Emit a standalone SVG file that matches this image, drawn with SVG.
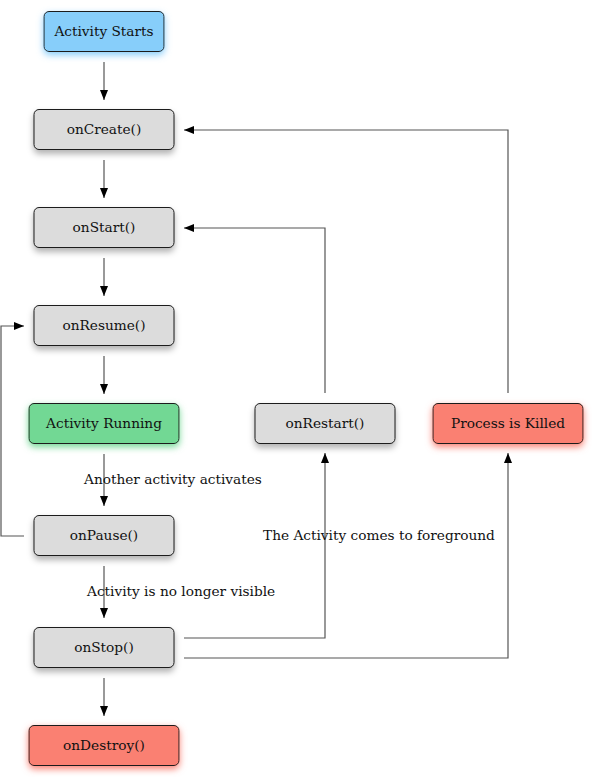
<svg xmlns="http://www.w3.org/2000/svg" width="594" height="777" viewBox="0 0 594 777">
<style>
.n rect{stroke:#1a1a1a;stroke-width:1}
.g rect{fill:#dcdcdc;filter:url(#sg)}
.b rect{fill:#87cefa;filter:url(#sb)}
.gr rect{fill:#72d894;filter:url(#sgr)}
.r rect{fill:#fa8072;filter:url(#sr)}
text{font-family:"DejaVu Serif",serif;font-size:13.7px;fill:#111}
.n text{text-anchor:middle}
#edges path{fill:none;stroke:#555;stroke-width:1.2}
</style>
<defs>
<marker id="ah" viewBox="0 0 10 8" refX="10" refY="4" markerWidth="10" markerHeight="8" markerUnits="userSpaceOnUse" orient="auto">
<path d="M0,0 L10,4 L0,8 z" fill="#000"/>
</marker>
<filter id="sg" x="-20%" y="-30%" width="140%" height="170%"><feDropShadow dx="0" dy="4" stdDeviation="3" flood-color="#000" flood-opacity="0.3"/></filter>
<filter id="sb" x="-20%" y="-30%" width="140%" height="170%"><feDropShadow dx="0" dy="3" stdDeviation="3.5" flood-color="#87cefa" flood-opacity="1"/></filter>
<filter id="sgr" x="-20%" y="-30%" width="140%" height="170%"><feDropShadow dx="0" dy="3" stdDeviation="3.5" flood-color="#72d894" flood-opacity="1"/></filter>
<filter id="sr" x="-20%" y="-30%" width="140%" height="170%"><feDropShadow dx="0" dy="3" stdDeviation="3.5" flood-color="#fa8072" flood-opacity="1"/></filter>
</defs>
<rect width="594" height="777" fill="#fff"/>
<g id="edges">
<path d="M104,62 V100" marker-end="url(#ah)"/>
<path d="M104,160 V198" marker-end="url(#ah)"/>
<path d="M104,258 V296" marker-end="url(#ah)"/>
<path d="M104,356 V394" marker-end="url(#ah)"/>
<path d="M104,454 V506" marker-end="url(#ah)"/>
<path d="M104,566 V618" marker-end="url(#ah)"/>
<path d="M104,678 V716" marker-end="url(#ah)"/>
<path d="M24,536 H1 V326 H24" marker-end="url(#ah)"/>
<path d="M325,393 V228 H184" marker-end="url(#ah)"/>
<path d="M508,393 V130 H184" marker-end="url(#ah)"/>
<path d="M184,638 H325 V453" marker-end="url(#ah)"/>
<path d="M184,658 H508 V453" marker-end="url(#ah)"/>
<text x="84" y="484">Another activity activates</text>
<text x="87" y="596">Activity is no longer visible</text>
<text x="263" y="540">The Activity comes to foreground</text>
</g>
<g id="start" class="n b"><rect x="44" y="11.5" width="120" height="40" rx="5"/><text x="104" y="36">Activity Starts</text></g>
<g id="oncreate" class="n g"><rect x="34" y="109.5" width="140" height="40" rx="5"/><text x="104" y="134">onCreate()</text></g>
<g id="onstart" class="n g"><rect x="34" y="207.5" width="140" height="40" rx="5"/><text x="104" y="232">onStart()</text></g>
<g id="onresume" class="n g"><rect x="34" y="305.5" width="140" height="40" rx="5"/><text x="104" y="330">onResume()</text></g>
<g id="running" class="n gr"><rect x="29" y="403.5" width="150" height="40" rx="5"/><text x="104" y="428">Activity Running</text></g>
<g id="onrestart" class="n g"><rect x="255" y="403.5" width="140" height="40" rx="5"/><text x="325" y="428">onRestart()</text></g>
<g id="killed" class="n r"><rect x="433" y="403.5" width="150" height="40" rx="5"/><text x="508" y="428">Process is Killed</text></g>
<g id="onpause" class="n g"><rect x="34" y="515.5" width="140" height="40" rx="5"/><text x="104" y="540">onPause()</text></g>
<g id="onstop" class="n g"><rect x="34" y="627.5" width="140" height="40" rx="5"/><text x="104" y="652">onStop()</text></g>
<g id="ondestroy" class="n r"><rect x="29" y="725.5" width="150" height="40" rx="5"/><text x="104" y="750">onDestroy()</text></g>
</svg>
